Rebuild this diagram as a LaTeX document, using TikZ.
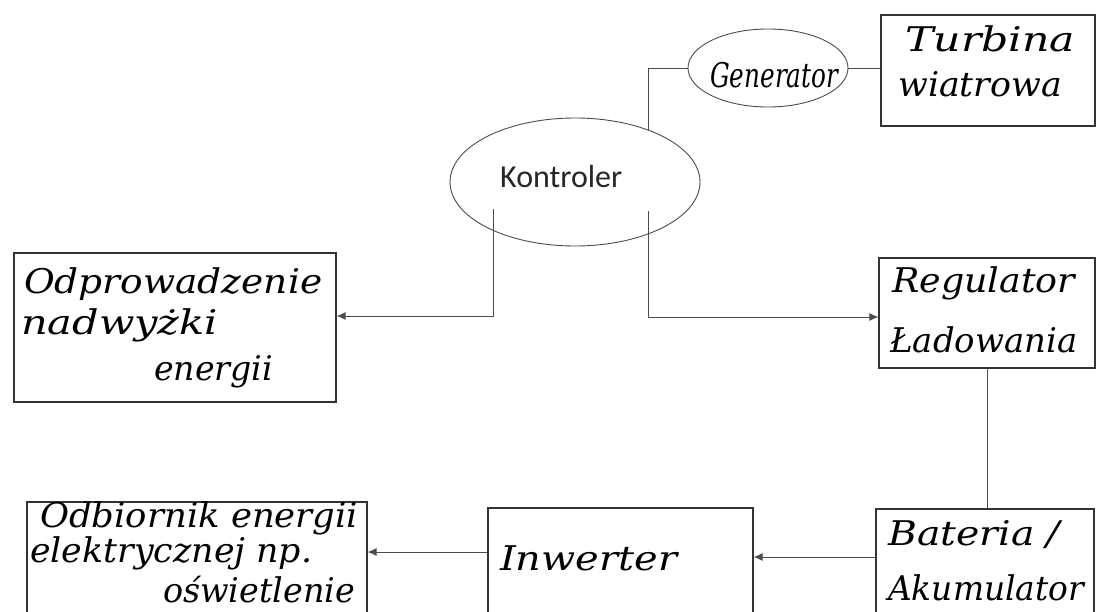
\documentclass[tikz,border=0pt]{standalone}
\usepackage{fontspec}
\setmainfont{DejaVu Serif}
\newfontfamily\hwfont{DejaVu Serif}
\newfontfamily\kfont{Carlito}
\usetikzlibrary{arrows.meta,calc,shapes.geometric}
\newcommand\hwt[2]{\resizebox{#1pt}{\height}{#2}}
\begin{document}
\begin{tikzpicture}[x=1pt,y=-1pt,
  box/.style={draw=black!80, line width=1.2pt, rectangle, inner sep=0pt},
  oval/.style={draw=black!70, line width=0.9pt, ellipse, inner sep=0pt},
  hand/.style={font={\hwfont\itshape\fontsize{34}{40}\selectfont}, anchor=base west, inner sep=0pt, text=black},
  conn/.style={draw=black!70, line width=0.9pt},
  arr/.style={conn, -{Latex[length=9pt,width=8pt]}}]
\useasboundingbox (0,0) rectangle (1097,612);
\fill[white] (0,0) rectangle (1097,612);

% boxes
\node[box, minimum width=214pt, minimum height=111pt] (T) at (988,70.5) {};
\node[oval, minimum width=160pt, minimum height=78pt] (G) at (768,68) {};
\node[oval, minimum width=250pt, minimum height=128pt] (K) at (575,182) {};
\node[box, minimum width=322pt, minimum height=149pt] (D) at (175,327.5) {};
\node[box, minimum width=216pt, minimum height=110pt] (R) at (987,313) {};
\node[box, minimum width=340pt, minimum height=128pt] (O) at (197,566) {};
\node[box, minimum width=265pt, minimum height=122pt] (I) at (620.5,569) {};
\node[box, minimum width=218pt, minimum height=121pt] (B) at (985,569.5) {};

% texts
\node[hand] (T1) at (905,52) {\hwt{170}{Turbina}};
\node[hand] (T2) at (898,97) {\hwt{164}{wiatrowa}};
\node[hand] (G1) at (710,88) {\hwt{128}{Generator}};
\node[anchor=base west, inner sep=0pt, text=black!85, font={\kfont\fontsize{32}{38}\selectfont}] (K1) at (500,188) {Kontroler};
\node[hand] (D1) at (24,293) {\hwt{298}{Odprowadzenie}};
\node[hand] (D2) at (21,334) {\hwt{197}{nadwyżki}};
\node[hand] (D3) at (154,380) {\hwt{119}{energii}};
\node[hand] (R1) at (892,292) {\hwt{183}{Regulator}};
\node[hand] (R2) at (890,352) {\hwt{187}{Ładowania}};
\node[hand] (O1) at (40,527) {\hwt{318}{Odbiornik energii}};
\node[hand] (O2) at (30,562) {\hwt{282}{elektrycznej np.}};
\node[hand] (O3) at (163,602) {\hwt{192}{oświetlenie}};
\node[hand] (I1) at (500,570) {\hwt{177}{Inwerter}};
\node[hand] (B1) at (888,545) {\hwt{172}{Bateria /}};
\node[hand] (B2) at (888,600) {\hwt{196}{Akumulator}};

% connector end points on the Kontroler ellipse
\coordinate (kt) at (648,130);
\coordinate (kl) at (493,209);
\coordinate (kr) at (648,211);

% connectors
\draw[conn] (G.east) -- (G.east -| T.west);
\draw[conn] (G.west) -- (G.west -| kt) -- (kt);
\draw[arr] (kl) |- ([yshift=11.5pt]D.east);
\draw[arr] (kr) |- ([yshift=-4pt]R.west);
\draw[conn] (R.south) -- (R.south |- B.north);
\draw[arr] ([yshift=12.5pt]B.west) -- ([yshift=12.5pt]B.west -| I.east);
\draw[arr] ([yshift=17pt]I.west) -- ([yshift=17pt]I.west -| O.east);
\end{tikzpicture}
\end{document}
